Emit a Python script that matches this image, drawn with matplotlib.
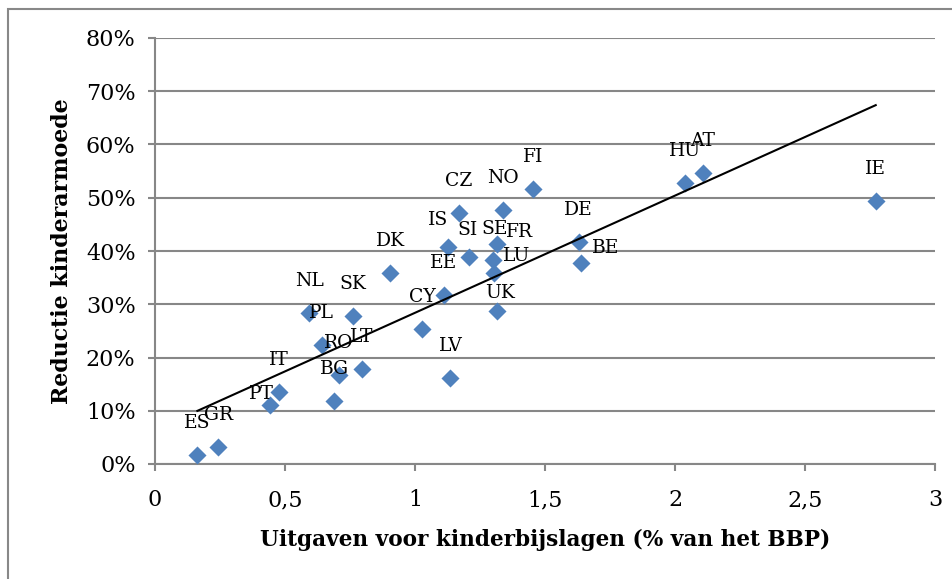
import numpy as np
import matplotlib
matplotlib.use("Agg")
import matplotlib.pyplot as plt
from matplotlib.ticker import FuncFormatter, MultipleLocator
from matplotlib.patches import Rectangle

# landen, uitgaven (% BBP) en reductie kinderarmoede (%)
countries = ["ES", "GR", "PT", "IT", "NL", "PL", "RO", "BG", "SK", "LT",
             "DK", "CY", "EE", "LV", "IS", "CZ", "SI", "NO", "FI", "SE",
             "FR", "LU", "UK", "DE", "BE", "HU", "AT", "IE"]
spending = [0.163, 0.243, 0.443, 0.477, 0.594, 0.642, 0.706, 0.690, 0.760, 0.796,
            0.905, 1.027, 1.110, 1.136, 1.127, 1.168, 1.206, 1.337, 1.454, 1.316,
            1.300, 1.303, 1.316, 1.630, 1.640, 2.039, 2.106, 2.772]
reduction = [1.7, 3.1, 11.1, 13.6, 28.3, 22.3, 16.7, 11.8, 27.7, 17.8,
             35.9, 25.3, 31.7, 16.2, 40.7, 47.2, 38.9, 47.7, 51.6, 41.4,
             38.4, 35.8, 28.8, 41.7, 37.8, 52.8, 54.6, 49.4]

# label offsets in pixels (dx, dy)
label_offsets = {"PT": (-9, 11), "IS": (-10, 27), "SI": (-1, 27), "SE": (-3, 15),
                 "FR": (27, 28), "LU": (23, 17), "UK": (3, 18), "BE": (24, 15)}

x = np.array(spending)
y = np.array(reduction) / 100.0

serif = "DejaVu Serif"
fig = plt.figure(figsize=(9.52, 5.79), dpi=100)
ax = fig.add_axes([155 / 952, 1 - 464 / 579, 780 / 952, 426 / 579])

ax.scatter(x, y, marker="D", s=9.2 ** 2, color="#4F81BD", linewidths=0, zorder=3)

# lineaire trendlijn
slope, intercept = np.polyfit(x, y, 1)
xs = np.array([x.min(), x.max()])
ax.plot(xs, slope * xs + intercept, color="black", lw=1.5, zorder=4)

for name, xi, yi in zip(countries, x, y):
    dx, dy = label_offsets.get(name, (0, 32))
    ax.annotate(name, (xi, yi), xytext=(dx, dy), textcoords="offset pixels",
                ha="center", va="center", fontsize=13.5, family=serif, zorder=5)

ax.set_xlim(0, 3)
ax.set_ylim(0, 0.8)
ax.xaxis.set_major_locator(MultipleLocator(0.5))
ax.yaxis.set_major_locator(MultipleLocator(0.1))
ax.xaxis.set_major_formatter(FuncFormatter(lambda v, p: f"{v:g}".replace(".", ",")))
ax.yaxis.set_major_formatter(FuncFormatter(lambda v, p: f"{v * 100:.0f}%"))

ax.grid(axis="y", color="#878787", lw=1.5)
ax.set_axisbelow(True)
for s in ["top", "right"]:
    ax.spines[s].set_visible(False)
for s in ["left", "bottom"]:
    ax.spines[s].set_color("#878787")
    ax.spines[s].set_linewidth(1.5)
ax.tick_params(colors="#878787", length=5, width=1.5, labelcolor="black", labelsize=16)
ax.tick_params(axis="x", pad=13)
ax.tick_params(axis="y", pad=9)
for lab in ax.get_xticklabels() + ax.get_yticklabels():
    lab.set_family(serif)

ax.set_xlabel("Uitgaven voor kinderbijslagen (% van het BBP)", family=serif,
              fontweight="bold", fontsize=15.6, labelpad=13)
ax.set_ylabel("Reductie kinderarmoede", family=serif, fontweight="bold",
              fontsize=15.9, labelpad=9)

fig.patches.append(Rectangle((7.5 / 952, -0.1), 1.2, 1.1 - 9.5 / 579, transform=fig.transFigure,
                             fill=False, edgecolor="#888888", lw=1.5))

fig.savefig("out.png", dpi=100)
